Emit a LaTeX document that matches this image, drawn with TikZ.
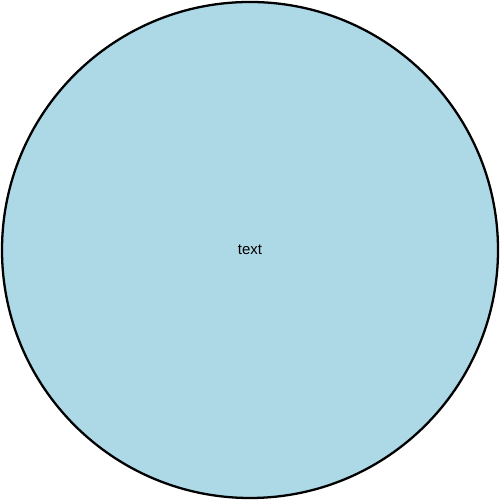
\documentclass[tikz,border=0pt]{standalone}
\usepackage{fontspec}
\setmainfont{Liberation Sans}
\usepackage{xcolor}
\usepackage{tikz}
\usetikzlibrary{positioning}

\definecolor{circlefill}{HTML}{ADD8E6}

\begin{document}
\begin{tikzpicture}[
    every node/.style={font=\fontsize{8.5}{10}\selectfont},
    bigcircle/.style={
        draw,
        circle,
        fill=circlefill,
        line width=1.3pt,
        minimum size=9.92cm,
        inner sep=0pt
    }
]

\useasboundingbox (0,0) rectangle (10,10);

\node[bigcircle] (disc) at (5,5) {text};

\end{tikzpicture}
\end{document}
